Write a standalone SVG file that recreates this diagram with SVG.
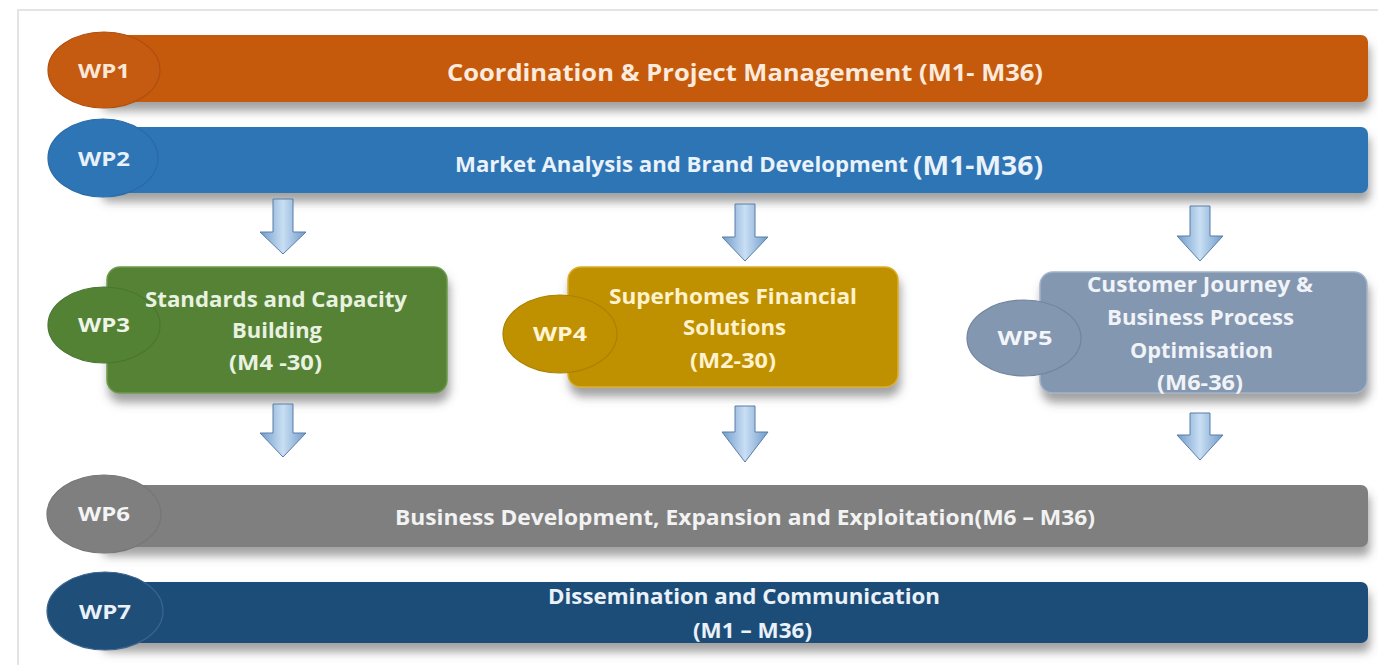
<svg xmlns="http://www.w3.org/2000/svg" width="1378" height="665" viewBox="0 0 1378 665">
<defs>
<filter id="sh" x="-5%" y="-30%" width="110%" height="180%">
<feDropShadow dx="2" dy="9" stdDeviation="5" flood-color="#555" flood-opacity="0.55"/>
</filter>
<linearGradient id="arrowGrad" x1="0" y1="0" x2="1" y2="0">
<stop offset="0" stop-color="#6F9ACB"/>
<stop offset="0.5" stop-color="#C9DFF3"/>
<stop offset="1" stop-color="#6F9ACB"/>
</linearGradient>
</defs>
<style>
.lbl{font-family:"Open Sans","Liberation Sans",sans-serif;font-weight:700;}
.wp{font-size:20px;text-anchor:middle;}
.arrow{fill:url(#arrowGrad);stroke:#5B7DA6;stroke-width:1;}
</style>
<rect x="0" y="0" width="1378" height="665" fill="#ffffff"/>
<path d="M18 665 V10 H1378" fill="none" stroke="#E4E4E4" stroke-width="2"/>

<g id="wp1">
<rect x="100" y="35" width="1268" height="67" rx="7" fill="#C55A11" filter="url(#sh)"/>
<ellipse cx="104" cy="70" rx="56" ry="38" fill="#C55A11" stroke="#B04E0D" stroke-width="1.2"/>
<text class="lbl wp" x="104" y="78" textLength="52" lengthAdjust="spacingAndGlyphs" fill="#FBE7D6">WP1</text>
<text class="lbl" x="447" y="81" font-size="24" textLength="596" lengthAdjust="spacingAndGlyphs" fill="#FCEBDC">Coordination &amp; Project Management (M1- M36)</text>
</g>

<g id="wp2">
<rect x="100" y="127" width="1268" height="66" rx="7" fill="#2E75B6" filter="url(#sh)"/>
<ellipse cx="103" cy="158" rx="55" ry="39" fill="#2E75B6" stroke="#2A6AA6" stroke-width="1.2"/>
<text class="lbl wp" x="104" y="166" textLength="52" lengthAdjust="spacingAndGlyphs" fill="#E8F1FA">WP2</text>
<text class="lbl" x="455" y="172" font-size="21" textLength="453" lengthAdjust="spacingAndGlyphs" fill="#EAF2FA">Market Analysis and Brand Development</text>
<text class="lbl" x="913" y="175" font-size="26" textLength="130" lengthAdjust="spacingAndGlyphs" fill="#EAF2FA">(M1-M36)</text>
</g>

<g id="wp3">
<rect x="107" y="267" width="340" height="126" rx="13" fill="#548235" stroke="#6E9A4E" stroke-width="1.5" filter="url(#sh)"/>
<ellipse cx="104" cy="325" rx="56" ry="38" fill="#548235" stroke="#4A7630" stroke-width="1.2"/>
<text class="lbl wp" x="104" y="332" textLength="52" lengthAdjust="spacingAndGlyphs" fill="#EEF5E8">WP3</text>
<text class="lbl" x="145" y="307" font-size="21" textLength="262" lengthAdjust="spacingAndGlyphs" fill="#E9F2E1">Standards and Capacity</text>
<text class="lbl" x="232" y="338" font-size="21" textLength="90" lengthAdjust="spacingAndGlyphs" fill="#E9F2E1">Building</text>
<text class="lbl" x="229" y="370" font-size="21" textLength="93" lengthAdjust="spacingAndGlyphs" fill="#E9F2E1">(M4 -30)</text>
</g>

<g id="wp4">
<rect x="568" y="267" width="330" height="120" rx="13" fill="#BF9000" stroke="#D9AE2A" stroke-width="1.5" filter="url(#sh)"/>
<ellipse cx="560" cy="334" rx="57" ry="39" fill="#BF9000" stroke="#AB8100" stroke-width="1.2"/>
<text class="lbl wp" x="560" y="341" textLength="54" lengthAdjust="spacingAndGlyphs" fill="#FFF4D6">WP4</text>
<text class="lbl" x="609" y="304" font-size="21" textLength="248" lengthAdjust="spacingAndGlyphs" fill="#FFF2CC">Superhomes Financial</text>
<text class="lbl" x="683" y="335" font-size="21" textLength="103" lengthAdjust="spacingAndGlyphs" fill="#FFF2CC">Solutions</text>
<text class="lbl" x="690" y="368" font-size="21" textLength="86" lengthAdjust="spacingAndGlyphs" fill="#FFF2CC">(M2-30)</text>
</g>

<g id="wp5">
<rect x="1040" y="272" width="327" height="121" rx="13" fill="#8497B0" stroke="#A3B3C8" stroke-width="1.5" filter="url(#sh)"/>
<ellipse cx="1024" cy="338" rx="57" ry="38" fill="#8497B0" stroke="#72859E" stroke-width="1.2"/>
<text class="lbl wp" x="1025" y="345" textLength="55" lengthAdjust="spacingAndGlyphs" fill="#F2F5F9">WP5</text>
<text class="lbl" x="1087" y="292" font-size="21" textLength="226" lengthAdjust="spacingAndGlyphs" fill="#F0F3F8">Customer Journey &amp;</text>
<text class="lbl" x="1107" y="325" font-size="21" textLength="187" lengthAdjust="spacingAndGlyphs" fill="#F0F3F8">Business Process</text>
<text class="lbl" x="1130" y="358" font-size="21" textLength="143" lengthAdjust="spacingAndGlyphs" fill="#F0F3F8">Optimisation</text>
<text class="lbl" x="1157" y="390" font-size="21" textLength="86" lengthAdjust="spacingAndGlyphs" fill="#F0F3F8">(M6-36)</text>
</g>

<g id="wp6">
<rect x="100" y="485" width="1268" height="62" rx="7" fill="#7F7F7F" filter="url(#sh)"/>
<ellipse cx="104" cy="514" rx="57" ry="39" fill="#7F7F7F" stroke="#767676" stroke-width="1.2"/>
<text class="lbl wp" x="104" y="521" textLength="52" lengthAdjust="spacingAndGlyphs" fill="#F4F4F4">WP6</text>
<text class="lbl" x="395" y="525" font-size="22" textLength="700" lengthAdjust="spacingAndGlyphs" fill="#F2F2F2">Business Development, Expansion and Exploitation(M6 – M36)</text>
</g>

<g id="wp7">
<rect x="100" y="582" width="1268" height="61" rx="7" fill="#1F4E79" filter="url(#sh)"/>
<ellipse cx="105" cy="611" rx="58" ry="39" fill="#1F4E79" stroke="#3B6690" stroke-width="1.2"/>
<text class="lbl wp" x="105" y="619" textLength="52" lengthAdjust="spacingAndGlyphs" fill="#EAF1F8">WP7</text>
<text class="lbl" x="548" y="604" font-size="22" textLength="392" lengthAdjust="spacingAndGlyphs" fill="#EAF1F8">Dissemination and Communication</text>
<text class="lbl" x="693" y="638" font-size="22" textLength="119" lengthAdjust="spacingAndGlyphs" fill="#EAF1F8">(M1 – M36)</text>
</g>

<g id="connectors">
<path class="arrow" d="M273 199 H293 V232 H306 L283 254 L260 232 H273 Z"/>
<path class="arrow" d="M735 204 H755 V237 H768 L745 261 L722 237 H735 Z"/>
<path class="arrow" d="M1190 206 H1210 V236 H1223 L1200 261 L1177 236 H1190 Z"/>
<path class="arrow" d="M273 404 H293 V433 H306 L283 457 L260 433 H273 Z"/>
<path class="arrow" d="M735 406 H755 V432 H768 L745 462 L722 432 H735 Z"/>
<path class="arrow" d="M1190 413 H1210 V435 H1223 L1200 460 L1177 435 H1190 Z"/>
</g>
</svg>
